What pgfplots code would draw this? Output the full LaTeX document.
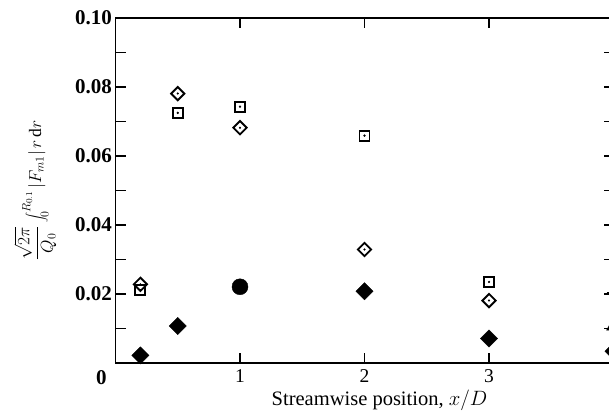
\documentclass[border=0pt]{standalone}
\usepackage{fontspec}
\setmainfont{Liberation Serif}
\usepackage{pgfplots}
\pgfplotsset{compat=1.18}

\begin{document}
\begin{tikzpicture}
\begin{axis}[
  scale only axis,
  width=498pt, height=345pt,
  xmin=0, xmax=4, ymin=0, ymax=0.10,
  clip=false,
  axis line style={line width=1.8pt},
  tick style={line width=1.6pt, black},
  tick align=inside,
  major tick length=10pt, minor tick length=10pt,
  xtick={1,2,3},
  xticklabels={1,2,3},
  xticklabel style={font=\fontsize{19.5}{22}\selectfont, yshift=-3pt},
  extra x ticks={0},
  extra x tick labels={0},
  extra x tick style={major tick length=0pt,
    xticklabel style={font=\fontsize{21}{24}\selectfont\bfseries, xshift=-14pt, yshift=-1pt}},
  ytick={0,0.02,0.04,0.06,0.08,0.1},
  yticklabels={,0.02,0.04,0.06,0.08,0.10},
  minor ytick={0.01,0.03,0.05,0.07,0.09},
  yticklabel style={font=\fontsize{21}{24}\selectfont\bfseries},
  xlabel={Streamwise position, $x/D$},
  xlabel style={font=\fontsize{20.5}{23}\selectfont, xshift=15pt, yshift=2pt},
  ylabel={$\displaystyle\frac{\sqrt{2\pi}}{Q_0}\int_0^{R_{0.1}}|F_{m1}|\,r\,\mathrm{d}r$},
  ylabel style={font=\fontsize{17.5}{20}\selectfont},
  ylabel shift=12pt,
]
\addplot[only marks, mark=square, mark size=5pt, line width=1.9pt] coordinates {
  (0.2,0.0211) (0.5,0.0725) (1,0.0743) (2,0.0659) (3,0.0235)};
\addplot[only marks, mark=square, mark size=4.7pt, line width=1.9pt, mark options={rotate=45}] coordinates {
  (0.2,0.0228) (0.5,0.0781) (1,0.0682) (2,0.0329) (3,0.0181)};
\addplot[only marks, mark=*, mark size=0.9pt] coordinates {
  (0.2,0.0211) (0.5,0.0725) (1,0.0743) (2,0.0659) (3,0.0235)
  (0.2,0.0228) (0.5,0.0781) (1,0.0682) (2,0.0329) (3,0.0181)};
\addplot[only marks, mark=square*, mark size=6.1pt, mark options={rotate=45}] coordinates {
  (0.2,0.0022) (0.5,0.0107) (2,0.0208) (3,0.0071)};
\addplot[only marks, mark=*, mark size=8pt] coordinates {
  (1,0.0221)};
\addplot[only marks, mark=+, mark size=7pt, line width=1.6pt] coordinates {
  (4,0.0204)};
\addplot[only marks, mark=triangle*, mark size=8pt] coordinates {
  (4,0.0107)};
\addplot[only marks, mark=square*, mark size=6.1pt, mark options={rotate=45}] coordinates {
  (4,0.0034)};
\end{axis}
\pgfresetboundingbox
\useasboundingbox (-115.5pt,-55pt) rectangle (493.5pt,363pt);
\end{tikzpicture}
\end{document}
